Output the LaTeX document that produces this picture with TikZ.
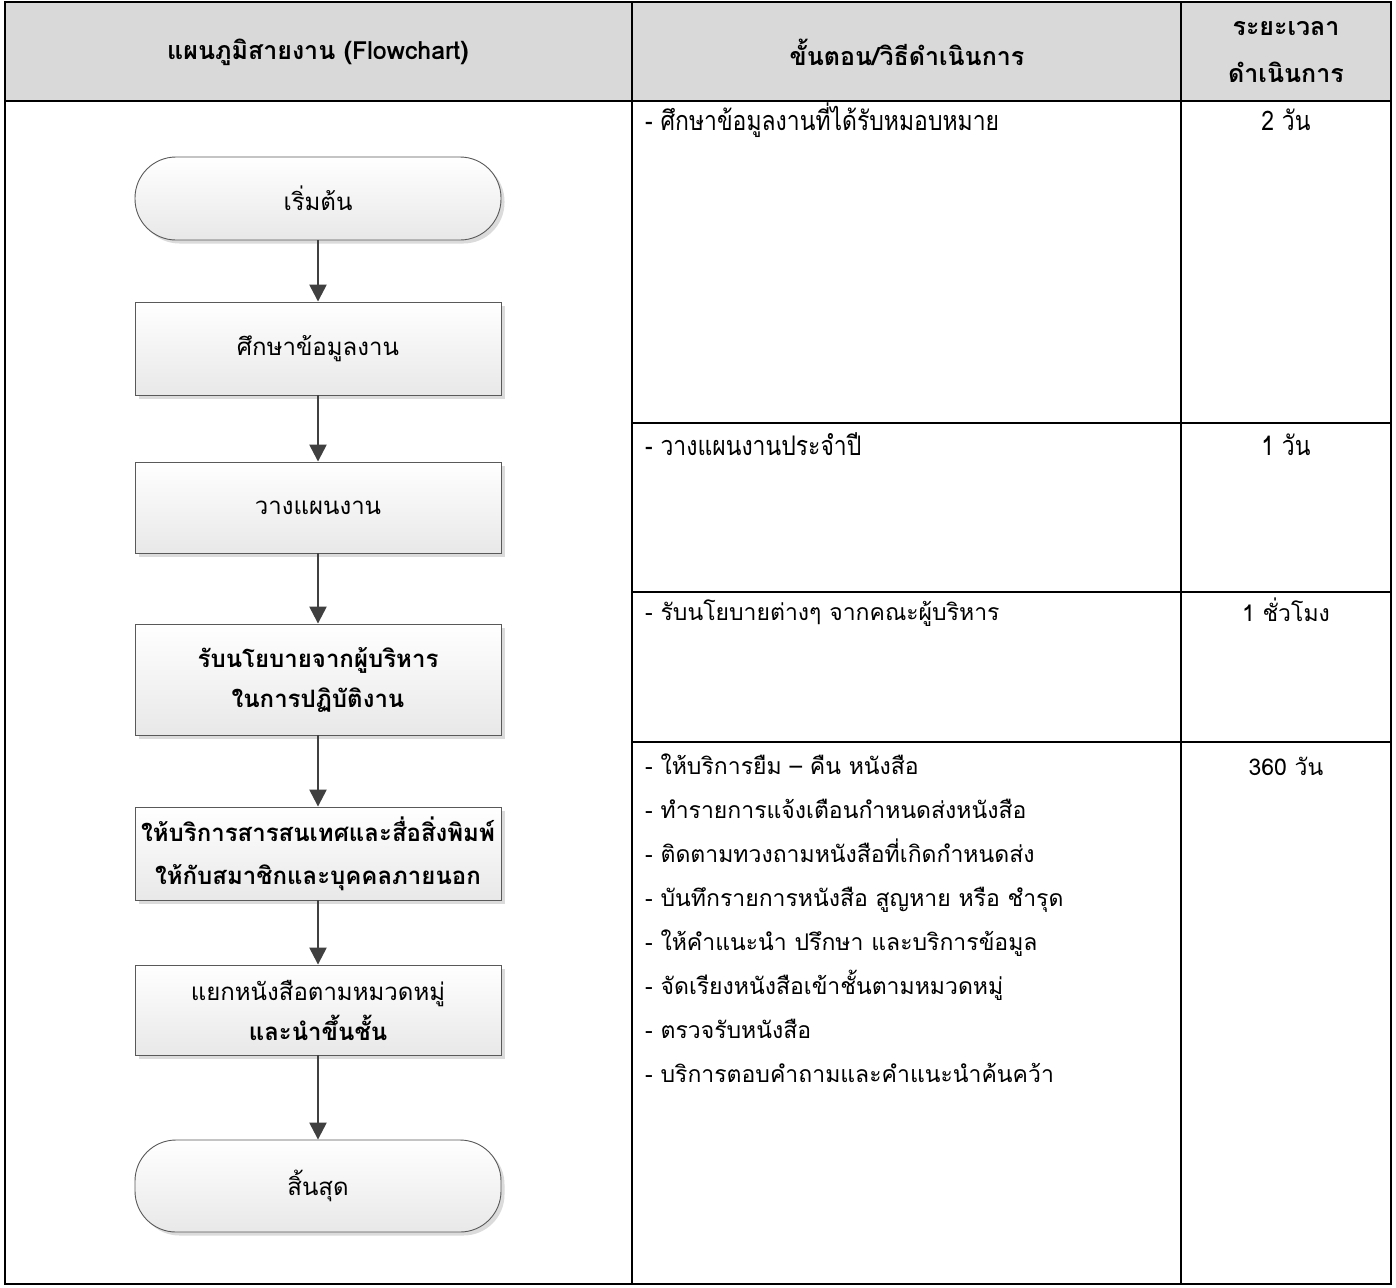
\documentclass[tikz,border=0pt]{standalone}
\usepackage{fontspec}
\setmainfont[Script=Thai]{Loma}
\newfontfamily\narrowthai[Script=Thai,FakeStretch=0.85]{Loma}
\usetikzlibrary{arrows.meta,shadows}

\tikzset{
  rule/.style={line width=2.4pt, black},
  headfill/.style={fill=black!15, draw=none},
  headtext/.style={font=\fontsize{25}{47}\selectfont\bfseries, align=center, inner sep=0pt},
  cellnarrow/.style={font=\narrowthai\fontsize{27}{40}\selectfont, inner sep=0pt},
  celltext/.style={font=\fontsize{23}{40}\selectfont, inner sep=0pt},
  procbox/.style={draw=black!65, line width=0.9pt, top color=white, bottom color=black!9,
    minimum width=366pt, align=center, inner sep=0pt,
    font=\fontsize{24}{42}\selectfont,
    drop shadow={shadow xshift=3.5pt, shadow yshift=-3.5pt, fill=black!14, opacity=1}},
  termbox/.style={procbox, rounded corners=41pt},
  flowarrow/.style={draw=black!75, line width=2.4pt, -{Triangle[width=17pt,length=17pt]}}
}

\begin{document}
\begin{tikzpicture}[x=1pt,y=-1pt]
  \useasboundingbox (0,0) rectangle (1396,1287);
  \fill[white] (0,0) rectangle (1396,1287);

  % header band
  \fill[headfill] (5,2) rectangle (1391,101);

  % table rules
  \draw[rule] (5,2) rectangle (1391,1284);
  \draw[rule] (5,101) -- (1391,101);
  \draw[rule] (632,2) -- (632,1284);
  \draw[rule] (1181,2) -- (1181,1284);
  \draw[rule] (632,423) -- (1391,423);
  \draw[rule] (632,592) -- (1391,592);
  \draw[rule] (632,742) -- (1391,742);

  % header texts
  \node[headtext] (h1) at (318,52) {แผนภูมิสายงาน (Flowchart)};
  \node[headtext] (h2) at (907,52) {ขั้นตอน/วิธีดำเนินการ};
  \node[headtext] (h3) at (1286,52) {ระยะเวลา\\ดำเนินการ};

  % flowchart
  \node[termbox, minimum height=83pt] (start) at (318,198.5) {เริ่มต้น};
  \node[procbox, minimum height=93pt] (study) at (318,348.5) {ศึกษาข้อมูลงาน};
  \node[procbox, minimum height=91pt] (plan) at (318,507.5) {วางแผนงาน};
  \node[procbox, minimum height=111pt, font=\fontsize{24}{40}\selectfont\bfseries] (policy) at (318,679.5) {รับนโยบายจากผู้บริหาร\\ในการปฏิบัติงาน};
  \node[procbox, minimum height=93pt, font=\fontsize{24}{43}\selectfont\bfseries] (serve) at (318,853.5) {ให้บริการสารสนเทศและสื่อสิ่งพิมพ์\\ให้กับสมาชิกและบุคคลภายนอก};
  \node[procbox, minimum height=90pt, font=\fontsize{24}{40}\selectfont] (sort) at (318,1010) {แยกหนังสือตามหมวดหมู่\\\textbf{และนำขึ้นชั้น}};
  \node[termbox, minimum height=92pt] (finish) at (318,1186) {สิ้นสุด};

  \draw[flowarrow] (start) -- (study);
  \draw[flowarrow] (study) -- (plan);
  \draw[flowarrow] (plan) -- (policy);
  \draw[flowarrow] (policy) -- (serve);
  \draw[flowarrow] (serve) -- (sort);
  \draw[flowarrow] (sort) -- (finish);

  % step descriptions and durations
  \node[cellnarrow, anchor=base west] (d1) at (645,131) {- ศึกษาข้อมูลงานที่ได้รับหมอบหมาย};
  \node[cellnarrow, anchor=base] (t1) at (1286,131) {2 วัน};
  \node[cellnarrow, anchor=base west] (d2) at (645,455) {- วางแผนงานประจำปี};
  \node[cellnarrow, anchor=base] (t2) at (1286,455) {1 วัน};
  \node[celltext, anchor=base west] (d3) at (645,620) {- รับนโยบายต่างๆ จากคณะผู้บริหาร};
  \node[celltext, anchor=base] (t3) at (1286,621) {1 ชั่วโมง};
  \node[celltext, anchor=base] (t4) at (1286,775) {360 วัน};
  \foreach \t [count=\i] in {
      - ให้บริการยืม – คืน หนังสือ,
      - ทำรายการแจ้งเตือนกำหนดส่งหนังสือ,
      - ติดตามทวงถามหนังสือที่เกิดกำหนดส่ง,
      - บันทึกรายการหนังสือ สูญหาย หรือ ชำรุด,
      - ให้คำแนะนำ ปรึกษา และบริการข้อมูล,
      - จัดเรียงหนังสือเข้าชั้นตามหมวดหมู่,
      - ตรวจรับหนังสือ,
      - บริการตอบคำถามและคำแนะนำค้นคว้า}
    \node[celltext, anchor=base west] (act\i) at (645,{774+44*(\i-1)}) {\t};
\end{tikzpicture}
\end{document}
